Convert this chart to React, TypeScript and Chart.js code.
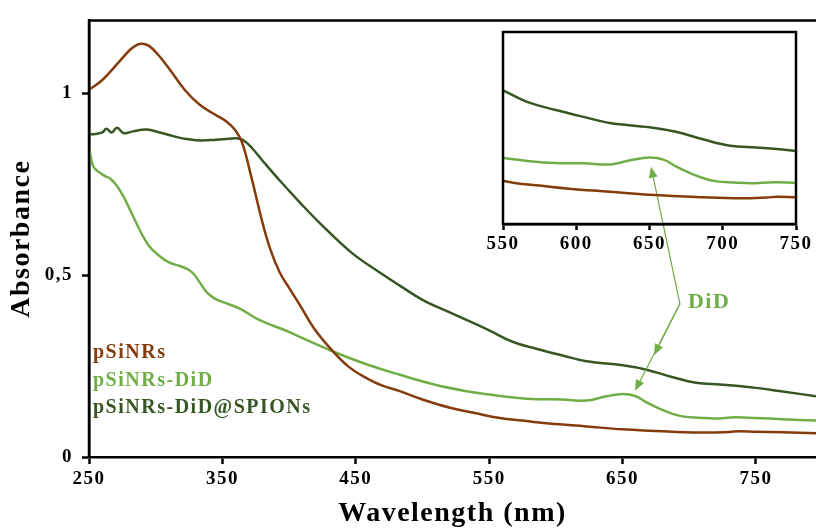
import React, { useEffect, useRef } from "react";
import { Chart, registerables } from "chart.js";

Chart.register(...registerables);

const FONT = '"Liberation Serif", "Times New Roman", serif';

const seriesNames = ["pSiNRs", "pSiNRs-DiD", "pSiNRs-DiD@SPIONs"];
const seriesColors = ["#843C0C", "#70AD47", "#375623"];

// pSiNRs
const pSiNRsWavelength = [250, 258, 265, 273, 281, 286, 290, 295, 302, 310, 322, 333, 345, 353, 360, 365, 372, 380, 386, 393, 400, 408, 419, 433, 445, 458, 470, 483, 500, 520, 540, 558, 575, 595, 623, 650, 687, 712, 730, 737, 750, 770, 795];
const pSiNRsAbsorbance = [1.01, 1.03, 1.055, 1.088, 1.12, 1.133, 1.136, 1.13, 1.105, 1.068, 1.008, 0.968, 0.94, 0.922, 0.897, 0.862, 0.765, 0.645, 0.57, 0.507, 0.465, 0.418, 0.352, 0.29, 0.247, 0.217, 0.196, 0.181, 0.158, 0.136, 0.12, 0.107, 0.1, 0.092, 0.084, 0.076, 0.0695, 0.067, 0.069, 0.071, 0.0695, 0.068, 0.065];

// pSiNRs-DiD
const pSiNRsDiDWavelength = [250, 253, 256, 262, 266, 271, 276, 282, 288, 295, 303, 310, 318, 324, 328, 333, 338, 344, 351, 363, 378, 400, 408, 433, 458, 483, 508, 533, 550, 570, 586, 605, 623, 637, 650, 660, 668, 678, 688, 696, 708, 719, 735, 750, 770, 795];
const pSiNRsDiDAbsorbance = [0.85, 0.8, 0.787, 0.772, 0.765, 0.745, 0.715, 0.67, 0.624, 0.58, 0.552, 0.535, 0.525, 0.516, 0.505, 0.48, 0.454, 0.436, 0.425, 0.408, 0.376, 0.344, 0.33, 0.29, 0.255, 0.226, 0.2, 0.181, 0.172, 0.163, 0.159, 0.158, 0.155, 0.166, 0.173, 0.167, 0.15, 0.132, 0.118, 0.111, 0.108, 0.106, 0.109, 0.107, 0.104, 0.1];

// pSiNRs-DiD@SPIONs
const pSiNRsDiDSpionsWavelength = [250, 255, 260, 263, 267, 271, 276, 283, 293, 303, 313, 323, 333, 345, 355, 361, 366, 372, 380, 393, 408, 423, 447, 468, 483, 500, 520, 540, 550, 568, 586, 605, 623, 650, 668, 687, 705, 723, 737, 750, 770, 795];
const pSiNRsDiDSpionsAbsorbance = [0.887, 0.888, 0.892, 0.902, 0.892, 0.905, 0.89, 0.895, 0.9, 0.892, 0.882, 0.874, 0.87, 0.872, 0.875, 0.876, 0.87, 0.85, 0.815, 0.76, 0.7, 0.643, 0.561, 0.507, 0.471, 0.432, 0.398, 0.365, 0.348, 0.316, 0.297, 0.279, 0.263, 0.252, 0.24, 0.22, 0.204, 0.199, 0.195, 0.19, 0.18, 0.167];

const seriesWavelengths = [pSiNRsWavelength, pSiNRsDiDWavelength, pSiNRsDiDSpionsWavelength];
const seriesAbsorbances = [pSiNRsAbsorbance, pSiNRsDiDAbsorbance, pSiNRsDiDSpionsAbsorbance];

const mainXTicks = [250, 350, 450, 550, 650, 750];
const mainYTicks = [0, 0.5, 1];
const mainYTickLabels = ["0", "0,5", "1"];
const insetXTicks = [550, 600, 650, 700, 750];

const annotationLabel = "DiD";
// annotation anchors, in main-chart data coordinates
const didLabelAnchor = { x: 699, y: 0.41 };
const didArrowOrigin = { x: 693, y: 0.421 };
const didArrowTips = [
  { x: 671.3, y: 0.798 },
  { x: 673.6, y: 0.28 },
  { x: 659.3, y: 0.182 },
];

const SPACING = "1.5px";

function makeDatasets() {
  return seriesNames.map((name, i) => ({
    label: name,
    data: seriesWavelengths[i].map((w, j) => ({ x: w, y: seriesAbsorbances[i][j] })),
    borderColor: seriesColors[i],
    backgroundColor: seriesColors[i],
    borderWidth: 2.5,
    pointRadius: 0,
    tension: 0.4,
    fill: false,
  }));
}

const tickFont = { family: FONT, size: 19, weight: "bold" as const };

const mainDecor = {
  id: "mainDecor",
  beforeDraw(chart: any) {
    chart.ctx.letterSpacing = SPACING;
  },
  afterDraw(chart: any) {
    const { ctx, chartArea: a, scales } = chart;
    ctx.save();
    ctx.strokeStyle = "#000";
    ctx.lineWidth = 2.5;
    ctx.beginPath();
    ctx.moveTo(a.left, a.bottom);
    ctx.lineTo(a.left, a.top);
    ctx.lineTo(a.right, a.top);
    ctx.stroke();

    // legend text
    ctx.font = `bold 20px ${FONT}`;
    ctx.letterSpacing = SPACING;
    ctx.textAlign = "left";
    ctx.textBaseline = "alphabetic";
    seriesNames.forEach((n, i) => {
      ctx.fillStyle = seriesColors[i];
      ctx.fillText(n, a.left + 4, a.bottom - 99 + i * 27.5);
    });

    // DiD annotation
    const sx = scales.x;
    const sy = scales.y;
    ctx.font = `bold 22px ${FONT}`;
    ctx.fillStyle = seriesColors[1];
    ctx.fillText(annotationLabel, sx.getPixelForValue(didLabelAnchor.x), sy.getPixelForValue(didLabelAnchor.y));
    const ox = sx.getPixelForValue(didArrowOrigin.x);
    const oy = sy.getPixelForValue(didArrowOrigin.y);
    ctx.strokeStyle = seriesColors[1];
    ctx.lineWidth = 1.2;
    didArrowTips.forEach((t) => {
      const tx = sx.getPixelForValue(t.x);
      const ty = sy.getPixelForValue(t.y);
      const dx = tx - ox;
      const dy = ty - oy;
      const len = Math.hypot(dx, dy);
      const ux = dx / len;
      const uy = dy / len;
      const nx = -uy;
      const ny = ux;
      ctx.beginPath();
      ctx.moveTo(ox, oy);
      ctx.lineTo(tx - ux * 8, ty - uy * 8);
      ctx.stroke();
      ctx.beginPath();
      ctx.moveTo(tx, ty);
      ctx.lineTo(tx - ux * 11 + nx * 4.5, ty - uy * 11 + ny * 4.5);
      ctx.lineTo(tx - ux * 11 - nx * 4.5, ty - uy * 11 - ny * 4.5);
      ctx.closePath();
      ctx.fill();
    });
    ctx.restore();
  },
};

const insetDecor = {
  id: "insetDecor",
  beforeDraw(chart: any) {
    chart.ctx.letterSpacing = SPACING;
  },
  afterDraw(chart: any) {
    const { ctx, chartArea: a } = chart;
    ctx.save();
    ctx.strokeStyle = "#000";
    ctx.lineWidth = 2.5;
    ctx.strokeRect(a.left, a.top, a.right - a.left, a.bottom - a.top);
    ctx.restore();
  },
};

export default function App() {
  const mainRef = useRef<HTMLCanvasElement>(null);
  const insetRef = useRef<HTMLCanvasElement>(null);

  useEffect(() => {
    const main = new Chart(mainRef.current as HTMLCanvasElement, {
      type: "line",
      data: { datasets: makeDatasets() as any },
      plugins: [mainDecor],
      options: {
        animation: false,
        responsive: false,
        maintainAspectRatio: false,
        layout: { padding: { top: 15, right: 0, left: 0, bottom: 0 } },
        plugins: { legend: { display: false }, tooltip: { enabled: false } },
        scales: {
          x: {
            type: "linear",
            min: 250,
            max: 795,
            afterBuildTicks: (s: any) => {
              s.ticks = mainXTicks.map((v) => ({ value: v }));
            },
            afterFit: (s: any) => {
              s.height = 75;
            },
            grid: { drawOnChartArea: false, drawTicks: true, tickLength: 7, tickWidth: 2.5, tickColor: "#000", color: "#000" },
            border: { display: true, color: "#000", width: 2.5 },
            ticks: {
              color: "#000",
              font: tickFont,
              padding: 4,
              maxRotation: 0,
              autoSkip: false,
              callback: (v: any) => String(v),
            },
            title: {
              display: true,
              text: "Wavelength (nm)",
              color: "#000",
              font: { family: FONT, size: 28, weight: "bold" },
              padding: { top: 0, bottom: 1 },
            },
          },
          y: {
            type: "linear",
            min: 0,
            max: 1.2,
            afterBuildTicks: (s: any) => {
              s.ticks = mainYTicks.map((v) => ({ value: v }));
            },
            afterFit: (s: any) => {
              s.width = 89;
            },
            grid: { drawOnChartArea: false, drawTicks: true, tickLength: 7, tickWidth: 2.5, tickColor: "#000", color: "#000" },
            border: { display: true, color: "#000", width: 2.5 },
            ticks: {
              color: "#000",
              font: tickFont,
              padding: 9,
              autoSkip: false,
              callback: (_v: any, i: number) => mainYTickLabels[i],
            },
            title: {
              display: true,
              text: "Absorbance",
              color: "#000",
              font: { family: FONT, size: 28, weight: "bold" },
              padding: { top: 5, bottom: 0 },
            },
          },
        },
      } as any,
    });

    const inset = new Chart(insetRef.current as HTMLCanvasElement, {
      type: "line",
      data: { datasets: makeDatasets() as any },
      plugins: [insetDecor],
      options: {
        animation: false,
        responsive: false,
        maintainAspectRatio: false,
        layout: { padding: { top: 12, right: 20, left: 23, bottom: 0 } },
        plugins: { legend: { display: false }, tooltip: { enabled: false } },
        scales: {
          x: {
            type: "linear",
            min: 550,
            max: 750,
            afterBuildTicks: (s: any) => {
              s.ticks = insetXTicks.map((v) => ({ value: v }));
            },
            afterFit: (s: any) => {
              s.height = 46;
            },
            grid: { drawOnChartArea: false, drawTicks: true, tickLength: 6, tickWidth: 2.5, tickColor: "#000", color: "#000" },
            border: { display: true, color: "#000", width: 2.5 },
            ticks: {
              color: "#000",
              font: tickFont,
              padding: 3,
              maxRotation: 0,
              autoSkip: false,
              callback: (v: any) => String(v),
            },
          },
          y: { type: "linear", display: false, min: 0, max: 0.5 },
        },
      } as any,
    });

    return () => {
      main.destroy();
      inset.destroy();
    };
  }, []);

  return (
    <div style={{ position: "fixed", left: 0, top: 0, width: 816, height: 532, background: "#fff", overflow: "hidden" }}>
      <canvas ref={mainRef} width={816} height={532} style={{ position: "absolute", left: 0, top: 0 }} />
      <canvas ref={insetRef} width={336} height={250} style={{ position: "absolute", left: 480, top: 20 }} />
    </div>
  );
}
